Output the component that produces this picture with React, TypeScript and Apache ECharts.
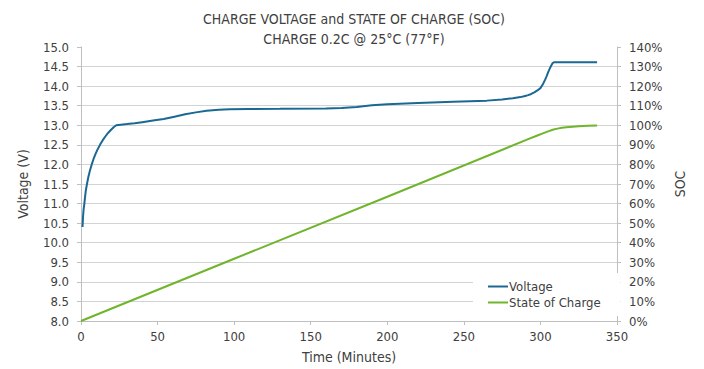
import React, { useEffect, useRef } from "react";
import * as echarts from "echarts";

const titleLines = ["CHARGE VOLTAGE and STATE OF CHARGE (SOC)", "CHARGE 0.2C @ 25°C (77°F)"];
const seriesNames = ["Voltage", "State of Charge"];

// [minutes, volts]
const voltageData: [number, number][] = [
  [1, 10.4], [1.3, 10.65], [1.7, 10.85], [2.2, 11.0], [2.6, 11.15], [3.1, 11.32], [3.9, 11.5],
  [4.8, 11.68], [5.8, 11.84], [7, 12.0], [8.2, 12.14], [9.5, 12.27], [10.9, 12.39], [12.4, 12.5],
  [14.2, 12.62], [16, 12.72], [17.8, 12.81], [19.5, 12.88], [21.3, 12.95], [23, 13.0],
  [26, 13.015], [30, 13.03], [35, 13.05], [40, 13.08], [47, 13.12], [54, 13.16], [61, 13.22],
  [68, 13.28], [75, 13.33], [82, 13.37], [90, 13.395], [97, 13.41], [110, 13.415], [130, 13.42],
  [160, 13.43], [170, 13.44], [180, 13.47], [190, 13.51], [200, 13.54], [220, 13.57],
  [243, 13.6], [265, 13.63], [275, 13.66], [282, 13.69], [287, 13.72], [290, 13.75],
  [292, 13.77], [294, 13.8], [296, 13.84], [298, 13.89], [300, 13.95], [301.5, 14.04],
  [303, 14.16], [304, 14.25], [305, 14.35], [306, 14.44], [307, 14.52], [308, 14.59],
  [308.8, 14.61], [337, 14.61],
];

// [minutes, percent]
const socData: [number, number][] = [
  [0, 0], [100, 31.8], [200, 63.5], [292, 92.9], [298, 94.8], [302, 96.0], [305, 96.9],
  [308, 97.7], [311, 98.3], [314, 98.7], [317, 99.0], [321, 99.3], [325, 99.5], [331, 99.7], [337, 99.9],
];

const xTicks = { min: 0, max: 350, interval: 50 };
const vTicks = { min: 8, max: 15, interval: 0.5 };
const socTicks = { min: 0, max: 140, interval: 10 };

const FONT = "'DejaVu Sans Condensed', 'Liberation Sans Narrow', sans-serif";
const TEXT = "#404040";
const AXIS = "#bfbfbf";
const GRID = "#d3d3d3";

export default function App() {
  const ref = useRef<HTMLDivElement>(null);
  useEffect(() => {
    if (!ref.current) return;
    const chart = echarts.init(ref.current, undefined, { renderer: "svg" });
    chart.setOption({
      animation: false,
      backgroundColor: "#ffffff",
      textStyle: { fontFamily: FONT, color: TEXT },
      title: [
        { text: titleLines[0], left: 349, top: 7, textAlign: "center", textStyle: { fontFamily: FONT, fontSize: 14, fontWeight: "normal", color: TEXT } },
        { text: titleLines[1], left: 349, top: 27, textAlign: "center", textStyle: { fontFamily: FONT, fontSize: 14, fontWeight: "normal", color: TEXT } },
      ],
      grid: { left: 81, right: 87, top: 47, bottom: 48 },
      legend: {
        orient: "vertical",
        left: 473,
        top: 273,
        padding: [7, 20, 7, 15],
        backgroundColor: "#ffffff",
        itemWidth: 20,
        itemHeight: 2,
        itemGap: 3,
        icon: "rect",
        data: seriesNames,
        textStyle: { fontFamily: FONT, fontSize: 13, color: TEXT, padding: [0, 0, 0, -4] },
      },
      xAxis: {
        type: "value",
        ...xTicks,
        name: "Time (Minutes)",
        nameLocation: "middle",
        nameGap: 29,
        nameTextStyle: { fontFamily: FONT, fontSize: 14, color: TEXT },
        axisLine: { show: true, lineStyle: { color: AXIS } },
        axisTick: { show: true, length: 4, lineStyle: { color: AXIS } },
        axisLabel: { fontFamily: FONT, fontSize: 13, color: TEXT, margin: 9 },
        splitLine: { show: false },
      },
      yAxis: [
        {
          type: "value",
          ...vTicks,
          name: "Voltage (V)",
          nameLocation: "middle",
          nameGap: 51,
          nameTextStyle: { fontFamily: FONT, fontSize: 14, color: TEXT },
          axisLine: { show: true, lineStyle: { color: AXIS } },
          axisTick: { show: true, length: 4, lineStyle: { color: AXIS } },
          axisLabel: { fontFamily: FONT, fontSize: 13, color: TEXT, margin: 12, formatter: (v: number) => v.toFixed(1) },
          splitLine: { show: true, showMaxLine: false, lineStyle: { color: GRID } },
        },
        {
          type: "value",
          ...socTicks,
          name: "SOC",
          nameLocation: "middle",
          nameGap: 56,
          nameTextStyle: { fontFamily: FONT, fontSize: 14, color: TEXT },
          axisLine: { show: true, lineStyle: { color: AXIS } },
          axisTick: { show: true, length: 4, lineStyle: { color: AXIS } },
          axisLabel: { fontFamily: FONT, fontSize: 13, color: TEXT, margin: 12, formatter: "{value}%" },
          splitLine: { show: false },
        },
      ],
      series: [
        {
          name: seriesNames[0],
          type: "line",
          yAxisIndex: 0,
          data: voltageData,
          showSymbol: false,
          symbol: "none",
          lineStyle: { color: "#1a6893", width: 2 },
          itemStyle: { color: "#1a6893" },
        },
        {
          name: seriesNames[1],
          type: "line",
          yAxisIndex: 1,
          data: socData,
          showSymbol: false,
          symbol: "none",
          lineStyle: { color: "#6fb52c", width: 2 },
          itemStyle: { color: "#6fb52c" },
        },
      ],
    });
    return () => chart.dispose();
  }, []);
  return <div ref={ref} style={{ width: 704, height: 369, position: "absolute", left: 0, top: 0 }} />;
}
